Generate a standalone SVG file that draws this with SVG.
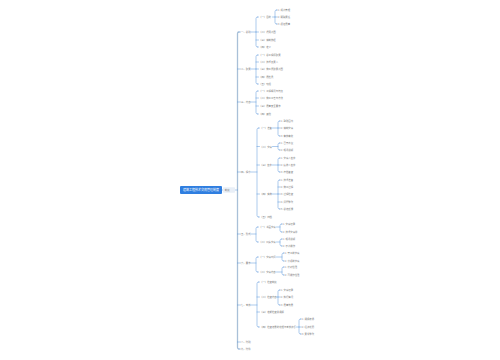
<svg xmlns="http://www.w3.org/2000/svg" width="500" height="360" viewBox="0 0 500 360">
<style>
text{font-family:"Noto Sans CJK SC","Noto Sans",sans-serif;font-size:2.4px;fill:#7a7a7a;dominant-baseline:central}
.root text{fill:#fff;font-size:3px;text-anchor:middle}
.c path{fill:none;stroke:#4a8bd6;stroke-width:0.45;stroke-linecap:round}
.c path.trunk{stroke:#a9c0d8;stroke-width:1.3}
</style>
<rect width="500" height="360" fill="#fff"/>
<g class="c" id="connectors">
<path class="trunk" d="M239 32 Q237.5 32 237.5 33.5 V347.5 Q237.5 349 239 349"/>
<path d="M222 190 H223 M235 190 H237.5 M239 32 H240.5 M239 349 H240.5 M237.5 69 H240.5 M237.5 102 H240.5 M237.5 172 H240.5 M237.5 234 H240.5 M237.5 263 H240.5 M237.5 305 H240.5 M237.5 342 H240.5"/>
<path d="M251 32 H256 M257.5 17 Q256 17 256 18.5 V45.5 Q256 47 257.5 47 M257.5 17 H258.5 M257.5 47 H258.5 M256 32 H258.5 M256 40 H258.5"/>
<path d="M272.5 17 H275 M276.5 10 Q275 10 275 11.5 V22.5 Q275 24 276.5 24 M276.5 10 H277.5 M276.5 24 H277.5 M275 17 H277.5"/>
<path d="M251 69 H256 M257.5 55 Q256 55 256 56.5 V82.5 Q256 84 257.5 84 M257.5 55 H258.5 M257.5 84 H258.5 M256 62 H258.5 M256 69 H258.5 M256 77 H258.5"/>
<path d="M251 102 H256 M257.5 91 Q256 91 256 92.5 V112.5 Q256 114 257.5 114 M257.5 91 H258.5 M257.5 114 H258.5 M256 98 H258.5 M256 106 H258.5"/>
<path d="M251 172 H257 M258.5 128 Q257 128 257 129.5 V215.5 Q257 217 258.5 217 M258.5 128 H259.5 M258.5 217 H259.5 M257 146.5 H259.5 M257 165 H259.5 M257 194 H259.5"/>
<path d="M272.5 128 H278 M279.5 121 Q278 121 278 122.5 V134.5 Q278 136 279.5 136 M279.5 121 H280.5 M279.5 136 H280.5 M278 128 H280.5"/>
<path d="M272.5 146.5 H278 M279.5 143 Q278 143 278 144.5 V148.5 Q278 150 279.5 150 M279.5 143 H280.5 M279.5 150 H280.5"/>
<path d="M272.5 165 H278 M279.5 158 Q278 158 278 159.5 V170.5 Q278 172 279.5 172 M279.5 158 H280.5 M279.5 172 H280.5 M278 165 H280.5"/>
<path d="M272.5 194 H278 M279.5 180 Q278 180 278 181.5 V207.5 Q278 209 279.5 209 M279.5 180 H280.5 M279.5 209 H280.5 M278 187 H280.5 M278 194 H280.5 M278 202 H280.5"/>
<path d="M251 234 H256 M257.5 227 Q256 227 256 228.5 V240.5 Q256 242 257.5 242 M257.5 227 H258.5 M257.5 242 H258.5"/>
<path d="M276.5 227 H280 M281.5 224 Q280 224 280 225.5 V230.5 Q280 232 281.5 232 M281.5 224 H282.5 M281.5 232 H282.5"/>
<path d="M276.5 242 H280 M281.5 239 Q280 239 280 240.5 V244.5 Q280 246 281.5 246 M281.5 239 H282.5 M281.5 246 H282.5"/>
<path d="M251 263 H256 M257.5 257 Q256 257 256 258.5 V270.5 Q256 272 257.5 272 M257.5 257 H258.5 M257.5 272 H258.5"/>
<path d="M276.5 257 H282 M283.5 253 Q282 253 282 254.5 V259.5 Q282 261 283.5 261 M283.5 253 H284.5 M283.5 261 H284.5"/>
<path d="M276.5 272 H282 M283.5 267 Q282 267 282 268.5 V273.5 Q282 275 283.5 275 M283.5 267 H284.5 M283.5 275 H284.5"/>
<path d="M251 305 H257 M258.5 282 Q257 282 257 283.5 V325.5 Q257 327 258.5 327 M258.5 282 H259.5 M258.5 327 H259.5 M257 297 H259.5 M257 312 H259.5"/>
<path d="M277 297 H278 M279.5 290 Q278 290 278 291.5 V303.5 Q278 305 279.5 305 M279.5 290 H280.5 M279.5 305 H280.5 M278 297 H280.5"/>
<path d="M296.5 327 H299 M300.5 319 Q299 319 299 320.5 V332.5 Q299 334 300.5 334 M300.5 319 H301.5 M300.5 334 H301.5 M299 327 H301.5"/>
</g>
<g id="root" class="root"><rect x="180" y="186" width="42" height="8" rx="1" fill="#2f7ee0"/><text x="201" y="190">建筑工程技术交底管理制度</text></g>
<g id="l1"><rect x="223" y="187.2" width="12" height="5.6" rx="0.8" fill="#e9eff7"/><text x="224.8" y="190">制度</text></g>
<g id="b1"><text x="241" y="32">一、总则</text></g>
<g id="b1-1"><text x="259" y="17">（一）目的</text></g>
<g id="b1-1-1"><text x="278" y="10">1. 规范管理</text></g>
<g id="b1-1-2"><text x="278" y="17">2. 明确责任</text></g>
<g id="b1-1-3"><text x="278" y="24">3. 保证质量</text></g>
<g id="b1-2"><text x="259" y="32">（二）适用范围</text></g>
<g id="b1-3"><text x="259" y="40">（三）编制依据</text></g>
<g id="b1-4"><text x="259" y="47">（四）定义</text></g>
<g id="b2"><text x="241" y="69">二、职责</text></g>
<g id="b2-1"><text x="259" y="55">（一）总工程师职责</text></g>
<g id="b2-2"><text x="259" y="62">（二）技术负责人</text></g>
<g id="b2-3"><text x="259" y="69">（三）施工员职责范围</text></g>
<g id="b2-4"><text x="259" y="77">（四）质检员</text></g>
<g id="b2-5"><text x="259" y="84">（五）班组</text></g>
<g id="b3"><text x="241" y="102">三、内容</text></g>
<g id="b3-1"><text x="259" y="91">（一）工程概况与特点</text></g>
<g id="b3-2"><text x="259" y="98">（二）施工工艺与方法</text></g>
<g id="b3-3"><text x="259" y="106">（三）质量安全要求</text></g>
<g id="b3-4"><text x="259" y="114">（四）其他</text></g>
<g id="b4"><text x="241" y="172">四、程序</text></g>
<g id="b4-1"><text x="260" y="128">（一）准备</text></g>
<g id="b4-1-1"><text x="281" y="121">1. 熟悉图纸</text></g>
<g id="b4-1-2"><text x="281" y="128">2. 编制交底</text></g>
<g id="b4-1-3"><text x="281" y="136">3. 审核审批</text></g>
<g id="b4-2"><text x="260" y="146.5">（二）交底</text></g>
<g id="b4-2-1"><text x="281" y="143">1. 召开会议</text></g>
<g id="b4-2-2"><text x="281" y="150">2. 现场讲解</text></g>
<g id="b4-3"><text x="260" y="165">（三）签字</text></g>
<g id="b4-3-1"><text x="281" y="158">1. 交底人签字</text></g>
<g id="b4-3-2"><text x="281" y="165">2. 接收人签字</text></g>
<g id="b4-3-3"><text x="281" y="172">3. 存档备查</text></g>
<g id="b4-4"><text x="260" y="194">（四）实施</text></g>
<g id="b4-4-1"><text x="281" y="180">1. 技术准备</text></g>
<g id="b4-4-2"><text x="281" y="187">2. 施工过程</text></g>
<g id="b4-4-3"><text x="281" y="194">3. 过程检查</text></g>
<g id="b4-4-4"><text x="281" y="202">4. 问题整改</text></g>
<g id="b4-4-5"><text x="281" y="209">5. 总结反馈</text></g>
<g id="b4-5"><text x="260" y="217">（五）归档</text></g>
<g id="b5"><text x="241" y="234">五、形式</text></g>
<g id="b5-1"><text x="259" y="227">（一）书面交底</text></g>
<g id="b5-1-1"><text x="283" y="224">1. 交底记录</text></g>
<g id="b5-1-2"><text x="283" y="232">2. 技术交底单</text></g>
<g id="b5-2"><text x="259" y="242">（二）口头交底</text></g>
<g id="b5-2-1"><text x="283" y="239">1. 现场讲解</text></g>
<g id="b5-2-2"><text x="283" y="246">2. 示范操作</text></g>
<g id="b6"><text x="241" y="263">六、要求</text></g>
<g id="b6-1"><text x="259" y="257">（一）交底时间</text></g>
<g id="b6-1-1"><text x="285" y="253">1. 开工前交底</text></g>
<g id="b6-1-2"><text x="285" y="261">2. 分项前交底</text></g>
<g id="b6-2"><text x="259" y="272">（二）交底内容</text></g>
<g id="b6-2-1"><text x="285" y="267">1. 针对性强</text></g>
<g id="b6-2-2"><text x="285" y="275">2. 可操作性强</text></g>
<g id="b7"><text x="241" y="305">七、考核</text></g>
<g id="b7-1"><text x="260" y="282">（一）检查制度</text></g>
<g id="b7-2"><text x="260" y="297">（二）检查内容</text></g>
<g id="b7-2-1"><text x="281" y="290">1. 交底记录</text></g>
<g id="b7-2-2"><text x="281" y="297">2. 执行情况</text></g>
<g id="b7-2-3"><text x="281" y="305">3. 质量效果</text></g>
<g id="b7-3"><text x="260" y="312">（三）定期检查并通报</text></g>
<g id="b7-4"><text x="260" y="327">（四）检查结果的处理与考核奖惩</text></g>
<g id="b7-4-1"><text x="302" y="319">1. 通报表扬</text></g>
<g id="b7-4-2"><text x="302" y="327">2. 经济处罚</text></g>
<g id="b7-4-3"><text x="302" y="334">3. 责令整改</text></g>
<g id="b8"><text x="241" y="342">八、附则</text></g>
<g id="b9"><text x="241" y="349">九、附件</text></g>
</svg>
